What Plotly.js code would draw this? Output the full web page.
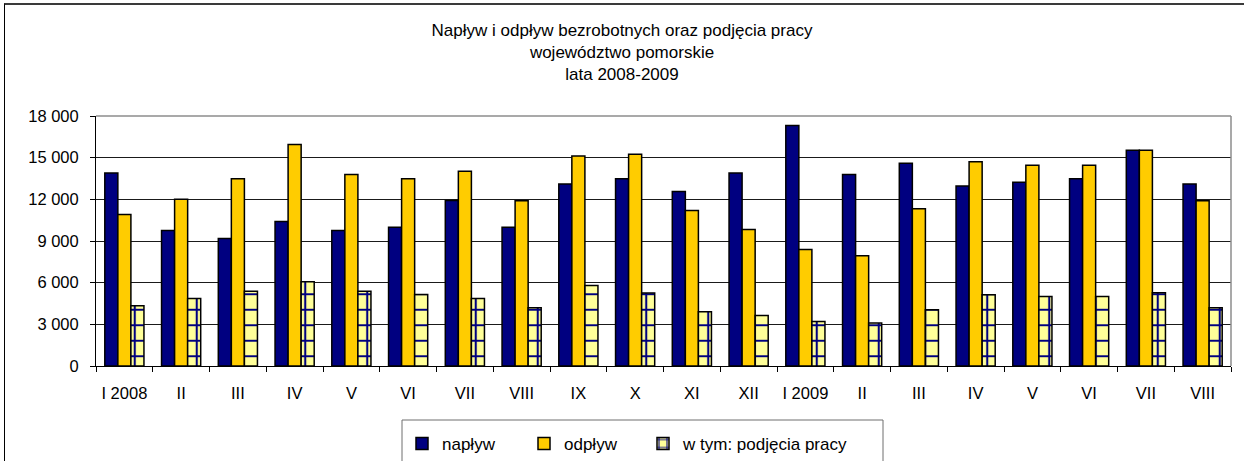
<!DOCTYPE html>
<html>
<head>
<meta charset="utf-8">
<script src="https://cdn.plot.ly/plotly-3.0.1.min.js"></script>
<style>
  html, body { margin: 0; padding: 0; background: #fff; overflow: hidden; }
  #chart { width: 1244px; height: 461px; position: absolute; left: 0; top: 0; }
  #frame { position: absolute; left: 4px; top: 3px; width: 1400px; height: 600px;
           border-left: 1.5px solid #000; border-top: 2px solid #3a3a3a; pointer-events: none; }
</style>
</head>
<body>
<div id="chart"></div>
<div id="frame"></div>
<script>
const monthLabels = ["I 2008", "II", "III", "IV", "V", "VI", "VII", "VIII", "IX", "X", "XI", "XII",
                     "I 2009", "II", "III", "IV", "V", "VI", "VII", "VIII"];
const naplyw   = [13900, 9750, 9180, 10400, 9750, 9990, 11910, 9990, 13110, 13490, 12560, 13900,
                  17320, 13780, 14590, 12960, 13230, 13490, 15530, 13110];
const odplyw   = [10900, 12000, 13490, 15940, 13780, 13490, 14020, 11890, 15120, 15240, 11190, 9830,
                  8390, 7930, 11330, 14710, 14450, 14450, 15530, 11890];
const podjecia = [4340, 4860, 5390, 6060, 5390, 5140, 4860, 4190, 5800, 5250, 3910, 3640,
                  3210, 3090, 4050, 5130, 5010, 5010, 5270, 4190];
const seriesNames = ["napływ", "odpływ", "w tym: podjęcia pracy"];
const titleLines = ["Napływ i odpływ bezrobotnych oraz podjęcia pracy", "województwo pomorskie", "lata 2008-2009"];

const W = 1244, H = 461;
const M = { l: 96, r: 13, t: 116, b: 95 };
const PW = W - M.l - M.r, PH = H - M.t - M.b;
const px2paperX = p => (p - M.l) / PW;
const px2paperY = p => (H - M.b - p) / PH;

const xIdx = monthLabels.map((_, i) => i);
const FONT = '"Liberation Sans", Arial, sans-serif';

const traces = [
  { type: 'bar', name: seriesNames[0], x: xIdx, y: naplyw, legend: 'legend',
    marker: { color: '#000080', line: { color: '#000', width: 1.5 } } },
  { type: 'bar', name: seriesNames[1], x: xIdx, y: odplyw, legend: 'legend2',
    marker: { color: '#FFCC00', line: { color: '#000', width: 1.5 } } },
  { type: 'bar', name: seriesNames[2], x: xIdx, y: podjecia, legend: 'legend3',
    marker: { color: '#FFFF99', line: { color: '#000', width: 1.5 },
              pattern: { shape: '+', fgcolor: '#000080', bgcolor: '#FFFF99', size: 15.5, solidity: 0.25 } } }
];

function legendAt(leftPx) {
  return {
    orientation: 'h', xref: 'container', yref: 'container',
    x: leftPx / W, xanchor: 'left', y: 1 - 426 / H, yanchor: 'top',
    borderwidth: 0, bgcolor: 'rgba(0,0,0,0)',
    font: { family: FONT, size: 17, color: '#000' }
  };
}

const layout = {
  width: W, height: H,
  margin: M,
  paper_bgcolor: '#fff', plot_bgcolor: '#fff',
  font: { family: FONT, color: '#000', size: 16 },
  separators: ', ',
  barmode: 'group', bargap: 0.31, bargroupgap: 0,
  title: { text: titleLines.join('<br>'), font: { family: FONT, size: 17, color: '#000' },
           x: 0.5, xanchor: 'center', yref: 'container', y: 1 - 36 / H, yanchor: 'top' },
  xaxis: {
    range: [-0.5, xIdx.length - 0.5],
    tickmode: 'array', tickvals: xIdx, ticktext: monthLabels,
    ticks: '', showgrid: false, zeroline: false,
    showline: true, linecolor: '#000', linewidth: 1,
    tickfont: { family: FONT, size: 16.5, color: '#000' },
    ticklabelstandoff: 12,
    minor: { tick0: -0.5, dtick: 1, ticks: 'outside', ticklen: 5, tickcolor: '#000', tickwidth: 1, showgrid: false }
  },
  yaxis: {
    range: [0, 18000], tickmode: 'linear', tick0: 0, dtick: 3000, tickformat: ',d',
    ticks: 'outside', ticklen: 5, tickcolor: '#000', tickwidth: 1,
    showgrid: true, gridcolor: '#1a1a1a', gridwidth: 1, zeroline: false,
    showline: true, linecolor: '#000', linewidth: 1,
    tickfont: { family: FONT, size: 16.5, color: '#000' },
    ticklabelstandoff: 8
  },
  shapes: [
    { type: 'line', xref: 'paper', yref: 'paper', x0: 0, x1: 1, y0: 1, y1: 1, line: { color: '#8c8c8c', width: 1.5 }, layer: 'above' },
    { type: 'line', xref: 'paper', yref: 'paper', x0: 1, x1: 1, y0: 0, y1: 1, line: { color: '#8c8c8c', width: 1.5 }, layer: 'above' },
    { type: 'rect', xref: 'paper', yref: 'paper',
      x0: px2paperX(402), x1: px2paperX(883), y0: px2paperY(420), y1: px2paperY(480),
      line: { color: '#6e6e6e', width: 1 }, fillcolor: 'rgba(0,0,0,0)', layer: 'below' }
  ],
  showlegend: true,
  legend: legendAt(402),
  legend2: legendAt(524),
  legend3: legendAt(643)
};

Plotly.newPlot('chart', traces, layout, { staticPlot: true, displayModeBar: false });
</script>
</body>
</html>
